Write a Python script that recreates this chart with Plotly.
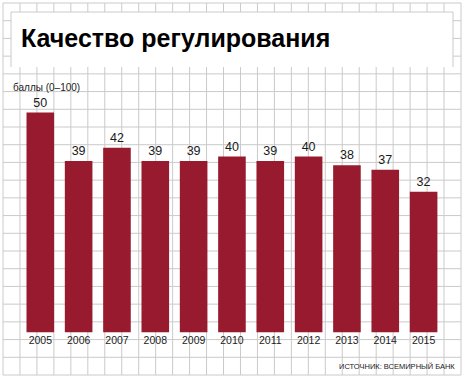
import plotly.graph_objects as go

years = ["2005", "2006", "2007", "2008", "2009", "2010", "2011", "2012", "2013", "2014", "2015"]
scores = [50, 39, 42, 39, 39, 40, 39, 40, 38, 37, 32]

title_text = "Качество регулирования"
unit_text = "баллы (0–100)"
source_text = "ИСТОЧНИК: ВСЕМИРНЫЙ БАНК"

W, H = 465, 380
ML, MR, MT, MB = 3, 4, 3, 5
PW, PH = W - ML - MR, H - MT - MB

BAR = "#981a2e"
GRID = "#cacaca"
SANS = "Liberation Sans, Arial, sans-serif"


def px_x(px):
    return (px - ML) / PW


def px_y(py):
    return (H - MB - py) / PH


fig = go.Figure()
fig.add_trace(go.Bar(
    x=years, y=scores, width=0.72,
    marker=dict(color=BAR, line=dict(width=0)),
    text=[str(v) for v in scores], textposition="outside",
    textfont=dict(family=SANS, size=12.5, color="#1a1a1a"),
    cliponaxis=False, hoverinfo="skip",
))

shapes = []
ncols, nrows = 27, 21
for i in range(ncols + 1):
    shapes.append(dict(type="line", xref="paper", yref="paper", x0=i / ncols, x1=i / ncols,
                       y0=0, y1=1, line=dict(color=GRID, width=1), layer="below"))
for j in range(nrows + 1):
    shapes.append(dict(type="line", xref="paper", yref="paper", x0=0, x1=1,
                       y0=j / nrows, y1=j / nrows, line=dict(color=GRID, width=1), layer="below"))
bx0, bx1, by0, by1 = px_x(11), px_x(453), px_y(67), px_y(12)
shapes.append(dict(type="rect", xref="paper", yref="paper", x0=bx0, x1=bx1, y0=by0, y1=by1,
                   fillcolor="white", line=dict(width=0), layer="below"))
shapes.append(dict(type="path", xref="paper", yref="paper",
                   path=f"M {bx0} {by0} L {bx0} {by1} L {bx1} {by1} L {bx1} {by0}",
                   line=dict(color=GRID, width=1), layer="below"))

annotations = [
    dict(text=f"<b>{title_text}</b>", xref="paper", yref="paper", x=px_x(19), y=px_y(38),
         xanchor="left", yanchor="middle", showarrow=False,
         font=dict(family=SANS, size=25, color="#000000")),
    dict(text=unit_text, xref="paper", yref="paper", x=px_x(11), y=px_y(87.5),
         xanchor="left", yanchor="middle", showarrow=False,
         font=dict(family=SANS, size=10, color="#222222")),
    dict(text=source_text, xref="paper", yref="paper", x=px_x(457), y=px_y(366.5),
         xanchor="right", yanchor="middle", showarrow=False,
         font=dict(family=SANS, size=7.5, color="#222222")),
]

zero_px = 332.5
unit_px = 4.4
pitch = 38.33
first_px = 40.3
x0r = -(first_px - ML) / pitch
x1r = x0r + PW / pitch

fig.update_layout(
    width=W, height=H,
    margin=dict(l=ML, r=MR, t=MT, b=MB, pad=0),
    paper_bgcolor="white", plot_bgcolor="white",
    showlegend=False,
    shapes=shapes, annotations=annotations,
    xaxis=dict(type="category", range=[x0r, x1r], domain=[0, 1], showgrid=False,
               zeroline=False, showline=False, ticks="", fixedrange=True,
               tickfont=dict(family=SANS, size=10.5, color="#222222")),
    yaxis=dict(domain=[px_y(zero_px), 1], range=[0, (zero_px - MT) / unit_px],
               showgrid=False, zeroline=False, showline=False, showticklabels=False,
               ticks="", fixedrange=True),
)

fig.write_html("out.html", config={"displayModeBar": False, "staticPlot": True},
               post_script="document.body.style.margin='0px';document.body.style.overflow='hidden';")
